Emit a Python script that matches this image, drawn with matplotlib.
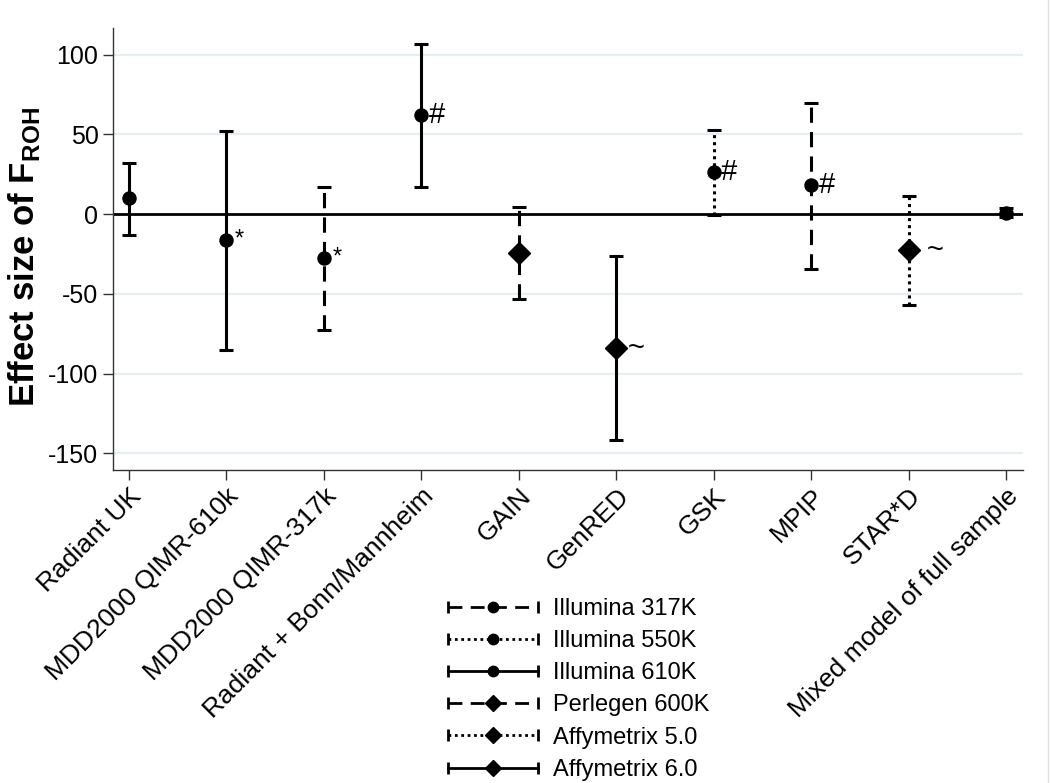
import matplotlib
matplotlib.use("Agg")
import matplotlib.pyplot as plt
from matplotlib.lines import Line2D
from matplotlib.legend_handler import HandlerLine2D

plt.rcParams['font.family'] = ['Liberation Sans', 'DejaVu Sans']
plt.rcParams['mathtext.fontset'] = 'custom'
plt.rcParams['mathtext.rm'] = 'Liberation Sans'
plt.rcParams['mathtext.bf'] = 'Liberation Sans:bold'
plt.rcParams['axes.unicode_minus'] = False

# data
studies = ['Radiant UK', 'MDD2000 QIMR-610k', 'MDD2000 QIMR-317k',
           'Radiant + Bonn/Mannheim', 'GAIN', 'GenRED', 'GSK', 'MPIP',
           'STAR*D', 'Mixed model of full sample']
effect = [10, -16, -27.5, 62, -24.5, -84, 26.5, 18, -22.5, 1]
ci_low = [-13, -85.5, -72.5, 17, -53, -141.5, -0.5, -34.5, -57, -2]
ci_high = [32, 52, 17, 107, 4.5, -26, 53, 70, 11.5, 4]
chip = ['Illumina 610K', 'Illumina 610K', 'Illumina 317K', 'Illumina 610K',
        'Perlegen 600K', 'Affymetrix 6.0', 'Illumina 550K', 'Illumina 317K',
        'Affymetrix 5.0', 'Illumina 610K']
notes = ['', '*', '*', '#', '', '~', '#', '#', '~', '']

chips = ['Illumina 317K', 'Illumina 550K', 'Illumina 610K',
         'Perlegen 600K', 'Affymetrix 5.0', 'Affymetrix 6.0']

dashed = (0, (5, 3))
dotted = (0, (1, 1.3))
style = {
    'Illumina 317K': (dashed, 'o'),
    'Illumina 550K': (dotted, 'o'),
    'Illumina 610K': ('-', 'o'),
    'Perlegen 600K': (dashed, 'D'),
    'Affymetrix 5.0': (dotted, 'D'),
    'Affymetrix 6.0': ('-', 'D'),
}
# note symbol -> (fontsize, x offset in points)
note_style = {'*': (17, 6), '#': (21, 5), '~': (21, 8)}

fig = plt.figure(figsize=(10.5, 7.83), dpi=100)
ax = fig.add_axes([113 / 1050, 1 - 470 / 783, 910 / 1050, 442 / 783])

xpos = list(range(1, len(studies) + 1))

for y in [100, 50, -50, -100, -150]:
    ax.axhline(y, color='#e6eef0', lw=1.6, zorder=0)
ax.axhline(0, color='black', lw=2, zorder=1)

for i in range(len(studies)):
    ls, mk = style[chip[i]]
    ms = 9.4 if mk == 'o' else 11.5
    eb = ax.errorbar(xpos[i], effect[i],
                     yerr=[[effect[i] - ci_low[i]], [ci_high[i] - effect[i]]],
                     fmt=mk, color='black', ms=ms, elinewidth=2.2,
                     capsize=5, capthick=2.2, zorder=3)
    eb[2][0].set_linestyle(ls)
    if notes[i]:
        fs, dx = note_style[notes[i]]
        if notes[i] == '~' and ls == dotted:
            dx = 13
        ax.annotate(notes[i], (xpos[i], effect[i]), xytext=(dx, 0),
                    textcoords='offset points', ha='left', va='center',
                    fontsize=fs, zorder=4)

ax.set_xlim(0.836, 10.17)
ax.set_ylim(-160.5, 116.8)
ax.set_yticks([100, 50, 0, -50, -100, -150])
ax.set_xticks(xpos)
ax.set_xticklabels(studies, rotation=45, ha='right', va='top',
                   rotation_mode='anchor', fontsize=19)
ax.tick_params(axis='y', labelsize=18, length=7, width=1, color='#333333')
ax.tick_params(axis='x', length=7, width=1, color='#333333', pad=3)
ax.spines['top'].set_visible(False)
ax.spines['right'].set_visible(False)
for s in ['left', 'bottom']:
    ax.spines[s].set_color('#333333')
    ax.spines[s].set_linewidth(1)

ax.set_ylabel(r'Effect size of F$_{\mathbf{ROH}}$', fontsize=25,
              fontweight='bold')
ax.yaxis.set_label_coords(-0.078, 0.482)

# legend: capped line + centre marker for each chip
handles = []
hmap = {}
for c in chips:
    ls, mk = style[c]
    capline = Line2D([], [], color='black', ls=ls, lw=2, marker='|',
                     ms=9, mew=2)
    dot = Line2D([], [], color='black', ls='none', marker=mk,
                 ms=7.5 if mk == 'o' else 8.5)
    hmap[capline] = HandlerLine2D(numpoints=2, marker_pad=0)
    hmap[dot] = HandlerLine2D(numpoints=1)
    handles.append((capline, dot))

fig.legend(handles, chips, handler_map=hmap, loc='upper left',
           bbox_to_anchor=(448 / 1050, 1 - 598 / 783), frameon=False,
           fontsize=17, handlelength=3.8, handletextpad=0.65,
           labelspacing=0.43, borderpad=0, borderaxespad=0)

fig.add_artist(Line2D([0.998, 0.998], [0, 1], transform=fig.transFigure,
                      color='#e0e0e0', lw=1))

fig.savefig('out.png', dpi=100)
